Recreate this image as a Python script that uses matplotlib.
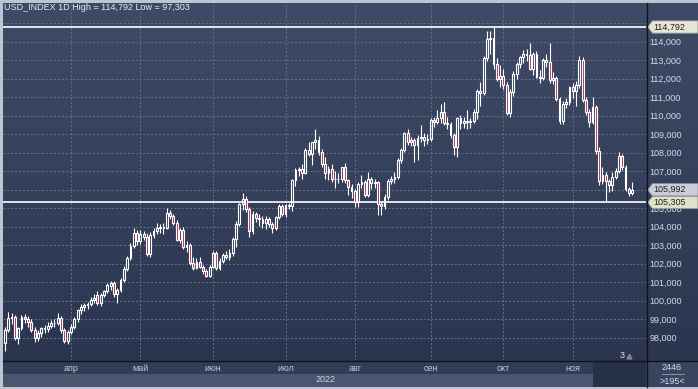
import numpy as np
import pandas as pd
import matplotlib
matplotlib.use("Agg")
import matplotlib.pyplot as plt
from matplotlib.colors import LinearSegmentedColormap
from matplotlib.patches import Polygon, Rectangle
from matplotlib.lines import Line2D

# daily USD index candles, 4 Mar 2022 .. 25 Nov 2022 (weekdays)
opens = [
    # Mar
    97.70, 98.42, 99.05, 99.10, 97.97, 98.50, 99.10, 99.02, 98.85, 98.42,
    97.97, 98.24, 98.50, 98.45, 98.65, 98.80, 98.78, 99.08, 98.42, 97.80,
    # Apr
    98.32, 98.56, 99.00, 99.48, 99.65, 99.75, 99.82, 100.04, 100.30, 99.86, 100.30,
    100.50, 100.80, 100.95, 100.35, 100.60, 101.12, 101.72, 102.30, 102.95, 103.65,
    # May
    103.20, 103.60, 103.45, 102.50, 103.55, 103.75, 103.95, 104.00, 103.90, 104.75, 104.55,
    104.20, 103.30, 103.80, 102.90, 103.00, 102.05, 101.75, 102.10, 101.80, 101.62, 101.35,
    # Jun
    101.80, 102.55, 101.75, 102.15, 102.45, 102.35, 102.60, 103.35, 104.15, 105.20, 105.50,
    104.95, 103.75, 104.70, 104.45, 104.40, 104.20, 104.40, 104.15, 103.90, 104.50, 105.10,
    # Jul
    104.70, 105.15, 105.10, 106.50, 107.05, 107.10, 106.90, 108.15, 107.95, 108.55, 108.70,
    108.05, 107.40, 106.90, 107.10, 106.60, 106.55, 106.55, 107.20, 106.50, 106.15,
    # Aug
    105.90, 105.35, 106.30, 106.40, 105.70, 106.60, 106.35, 106.40, 105.25, 105.10, 105.60, 106.45,
    106.55, 106.70, 107.60, 108.15, 109.05, 108.55, 108.70, 108.40, 108.80, 108.85, 108.70,
    # Sep
    108.75, 109.75, 109.65, 109.85, 110.20, 109.60, 109.55, 108.95, 108.30, 109.85, 109.60,
    109.70, 109.65, 109.70, 110.20, 111.35, 111.25, 113.10, 114.15, 114.18, 112.80, 112.00,
    # Oct
    112.15, 111.65, 110.15, 111.30, 112.25, 112.80, 113.15, 113.35, 113.30, 112.50, 113.35,
    112.10, 112.05, 113.00, 112.90, 111.95, 112.05, 110.90, 109.70, 110.65, 110.75,
    # Nov
    111.55, 111.35, 111.65, 113.00, 110.85, 110.20, 109.65, 110.45, 108.10, 106.45,
    106.80, 106.45, 106.25, 106.70, 107.00, 107.80, 107.25, 106.05, 105.80,
]
highs = [
    98.55, 99.40, 99.35, 99.20, 98.60, 99.20, 99.30, 99.15, 99.00, 98.60,
    98.40, 98.60, 98.70, 98.85, 98.95, 99.00, 99.35, 99.15, 98.50, 98.40,
    98.75, 99.10, 99.55, 99.80, 99.85, 99.95, 100.20, 100.35, 100.50, 100.40, 100.55,
    100.95, 101.05, 101.05, 100.70, 101.20, 101.85, 102.40, 103.10, 103.95, 103.80,
    103.80, 103.75, 103.65, 103.70, 103.95, 104.20, 104.15, 104.20, 105.00, 104.90, 104.70,
    104.35, 103.90, 104.00, 103.25, 103.10, 102.35, 102.30, 102.35, 101.95, 101.70, 101.95,
    102.70, 102.70, 102.30, 102.60, 102.70, 102.80, 103.45, 104.30, 105.30, 105.80, 105.65,
    105.05, 104.85, 104.80, 104.70, 104.60, 104.55, 104.50, 104.25, 104.55, 105.20, 105.25,
    105.25, 105.30, 106.60, 107.15, 107.25, 107.40, 108.25, 108.55, 108.60, 109.30, 108.90,
    108.20, 107.75, 107.30, 107.40, 107.00, 106.90, 107.25, 107.45, 106.55, 106.30,
    106.05, 106.40, 106.80, 106.50, 106.95, 106.70, 106.55, 106.45, 105.40, 105.75, 106.55, 106.75,
    106.95, 107.70, 108.25, 109.10, 109.30, 108.85, 108.80, 108.95, 109.50, 109.05, 109.00,
    109.85, 109.95, 110.30, 110.65, 110.75, 109.95, 109.65, 109.05, 109.90, 110.05, 109.90,
    110.30, 109.85, 110.35, 111.45, 111.80, 113.25, 114.55, 114.60, 114.792, 113.10, 112.75,
    112.50, 111.80, 111.45, 112.40, 112.90, 113.25, 113.55, 113.60, 113.95, 113.45, 113.50,
    112.45, 113.10, 113.35, 113.95, 112.35, 112.15, 111.00, 110.80, 110.95, 111.60,
    111.75, 111.85, 113.20, 113.15, 111.00, 110.35, 111.00, 110.55, 108.30, 107.25,
    106.95, 106.60, 106.95, 107.15, 108.05, 107.90, 107.35, 106.15, 106.40,
]
lows = [
    97.303, 98.30, 98.75, 97.85, 97.65, 98.40, 98.80, 98.60, 98.30, 97.75,
    97.80, 98.05, 98.25, 98.30, 98.50, 98.60, 98.70, 98.25, 97.70, 97.65,
    98.20, 98.45, 98.85, 99.30, 99.45, 99.55, 99.70, 99.85, 99.75, 99.70, 100.20,
    100.40, 100.60, 100.20, 99.85, 100.45, 101.00, 101.60, 102.20, 102.85, 103.00,
    103.05, 103.30, 102.40, 102.35, 103.40, 103.60, 103.65, 103.60, 103.85, 104.40, 104.10,
    103.20, 103.10, 102.80, 102.65, 101.95, 101.65, 101.70, 101.75, 101.45, 101.30, 101.30,
    101.75, 101.65, 101.65, 102.05, 102.25, 102.20, 102.40, 102.90, 104.05, 104.90, 104.80,
    103.45, 103.60, 104.25, 104.05, 103.90, 103.85, 104.00, 103.65, 103.80, 104.40, 104.55,
    104.50, 104.95, 104.85, 106.20, 106.75, 106.60, 106.85, 107.80, 107.35, 108.20, 107.85,
    107.25, 106.55, 106.50, 106.40, 106.10, 106.35, 106.40, 106.35, 105.70, 105.55,
    105.08, 105.05, 106.10, 105.60, 105.60, 106.05, 106.10, 104.63, 104.65, 104.95, 105.45, 106.30,
    106.35, 106.55, 107.45, 108.05, 108.40, 108.35, 107.50, 107.60, 108.55, 108.35, 108.45,
    108.65, 109.40, 109.55, 109.60, 109.50, 109.30, 108.80, 107.85, 107.75, 109.30, 109.35,
    109.30, 109.35, 109.60, 109.80, 110.50, 111.10, 112.95, 113.35, 112.50, 111.85, 111.55,
    111.45, 110.05, 109.95, 111.05, 112.00, 112.55, 112.85, 112.95, 112.45, 112.20, 112.05,
    111.75, 111.95, 112.65, 111.75, 111.70, 110.80, 109.55, 109.55, 110.40, 110.55,
    110.95, 110.50, 111.50, 110.75, 110.05, 109.40, 109.55, 107.95, 106.25, 106.30,
    105.305, 105.85, 105.95, 106.55, 106.90, 107.05, 105.95, 105.65, 105.70,
]
closes = [
    98.42, 99.05, 99.10, 97.97, 98.50, 99.10, 99.02, 98.85, 98.42, 97.97,
    98.24, 98.50, 98.45, 98.65, 98.80, 98.78, 99.08, 98.42, 97.80, 98.32,
    98.56, 99.00, 99.48, 99.65, 99.75, 99.82, 100.04, 100.15, 99.86, 100.30, 100.50,
    100.85, 100.95, 100.35, 100.60, 101.12, 101.72, 102.30, 102.95, 103.65, 103.20,
    103.60, 103.45, 102.50, 103.55, 103.75, 103.95, 104.00, 103.90, 104.75, 104.55, 104.20,
    103.30, 103.80, 102.90, 103.00, 102.05, 101.75, 102.10, 101.80, 101.62, 101.35, 101.80,
    102.55, 101.75, 102.15, 102.45, 102.35, 102.60, 103.35, 104.15, 105.20, 105.50, 104.95,
    103.75, 104.70, 104.45, 104.40, 104.20, 104.40, 104.15, 103.90, 104.50, 105.10, 104.70,
    105.15, 105.10, 106.50, 107.05, 107.10, 106.90, 108.15, 107.95, 108.55, 108.70, 108.05,
    107.40, 106.90, 107.10, 106.60, 106.55, 106.55, 107.20, 106.50, 106.15, 105.90,
    105.35, 106.30, 106.40, 105.70, 106.60, 106.35, 106.40, 105.25, 105.10, 105.60, 106.45, 106.55,
    106.70, 107.60, 108.15, 109.05, 108.55, 108.70, 108.40, 108.80, 108.85, 108.70, 108.75,
    109.75, 109.65, 109.85, 110.20, 109.60, 109.55, 108.95, 108.30, 109.85, 109.60, 109.70,
    109.65, 109.70, 110.20, 111.35, 111.25, 113.10, 114.15, 114.18, 112.80, 112.00, 112.15,
    111.65, 110.15, 111.30, 112.25, 112.80, 113.15, 113.35, 113.30, 112.50, 113.35, 112.10,
    112.05, 113.00, 112.90, 111.95, 112.05, 110.90, 109.70, 110.65, 110.75, 111.55,
    111.35, 111.65, 113.00, 110.85, 110.20, 109.65, 110.45, 108.10, 106.45, 106.80,
    106.45, 106.25, 106.70, 107.00, 107.80, 107.25, 106.05, 105.80, 105.992,
]
dates = pd.bdate_range("2022-03-04", "2022-11-25")
month_names = {4: "апр", 5: "май", 6: "июн", 7: "июл", 8: "авг",
               9: "сен", 10: "окт", 11: "ноя"}
price_ticks = list(range(98, 116))
support_level = 105.305

W, H = 698, 389
plt.rcParams['font.family'] = ['Liberation Sans', 'DejaVu Sans']


def box(x0, y0, x1, y1):
    return [x0 / W, 1 - y1 / H, (x1 - x0) / W, (y1 - y0) / H]


def fmt(v):
    return f"{v:.3f}".replace(".", ",")


fig = plt.figure(figsize=(W / 100, H / 100), dpi=100, facecolor='#bcc6d2')

# gradient background behind chart and price scale
bg = fig.add_axes(box(3, 3, 698, 361))
cmap = LinearSegmentedColormap.from_list('bg', ['#3f4b66', '#2b3550'])
bg.imshow(np.linspace(0, 1, 256).reshape(-1, 1), aspect='auto', cmap=cmap,
          extent=[0, 1, 0, 1])
bg.axis('off')

# bottom time scale strips (drawn under the axes so tick labels stay visible)
for x0, y0, x1, y1, col in [(3, 361, 646, 374, '#313d57'),
                            (3, 374, 646, 387, '#4a5670'),
                            (593, 361, 646, 387, '#27314a'),
                            (646, 361, 698, 387, '#394560')]:
    fig.add_artist(Rectangle((x0 / W, 1 - y1 / H), (x1 - x0) / W, (y1 - y0) / H,
                             transform=fig.transFigure, color=col, lw=0, zorder=-5))

ax = fig.add_axes(box(3, 3, 646, 360))
ax.set_facecolor('none')
for s in ax.spines.values():
    s.set_visible(False)

o = np.array(opens)
h = np.array(highs)
l = np.array(lows)
c = np.array(closes)
x = np.arange(len(c))
top = np.maximum(o, c)
bot = np.minimum(o, c)
up = c >= o

ax.vlines(x, l, bot, color='white', lw=0.8, zorder=3)
ax.vlines(x, top, h, color='white', lw=0.8, zorder=3)
ax.bar(x[up], (top - bot)[up], bottom=bot[up], width=0.55,
       facecolor='none', edgecolor='white', lw=0.8, zorder=4)
ax.bar(x[~up], (top - bot)[~up], bottom=bot[~up], width=0.55,
       facecolor='#b8294f', edgecolor='white', lw=0.8, zorder=4)

ax.axhline(h.max(), color='white', lw=1.2, zorder=2)
ax.axhline(support_level, color='white', lw=1.2, zorder=2)

ax.set_xlim(-0.6, 194.2)
ax.set_ylim(96.79, 116.09)

month_pos = [i for i in range(1, len(dates)) if dates[i].month != dates[i - 1].month]
ax.set_xticks(month_pos)
ax.set_xticklabels([month_names[dates[i].month] for i in month_pos])
ax.set_yticks(price_ticks)
ax.set_yticklabels([fmt(v) for v in price_ticks])
ax.yaxis.tick_right()
ax.tick_params(axis='y', length=0, pad=2.5, labelsize=6.5, labelcolor='#d5d9e1')
ax.tick_params(axis='x', length=0, pad=3, labelsize=6.5, labelcolor='#c3c8d2')
ax.grid(True, color='#66728c', ls=(0, (2, 2)), lw=0.7)
ax.set_axisbelow(True)

fig.text(4 / W, 1 - 8 / H,
         f"USD_INDEX 1D High = {fmt(h.max())} Low = {fmt(l.min())}",
         ha='left', va='center', fontsize=6.5, color='#e8eaee')

# price tags on the right scale
tag_ax = fig.add_axes(box(646, 3, 698, 360))
tag_ax.set_xlim(0, 52)
tag_ax.set_ylim(ax.get_ylim())
tag_ax.axis('off')
hh = 6.2 / 18.5
for val, col in [(h.max(), '#e6e6d2'), (c[-1], '#c9cdd9'), (support_level, '#dfe3c6')]:
    pts = [(1.5, val), (6.5, val + hh), (52, val + hh), (52, val - hh), (6.5, val - hh)]
    tag_ax.add_patch(Polygon(pts, closed=True, fc=col, ec='#8a8f99', lw=0.6))
    tag_ax.text(7.5, val, fmt(val), ha='left', va='center', fontsize=6.5, color='#222222')

# separators
fig.add_artist(Line2D([646.5 / W, 646.5 / W], [1 - 3 / H, 1 - 387 / H],
                      transform=fig.transFigure, color='#101418', lw=1))
fig.add_artist(Line2D([3 / W, 1], [1 - 360.5 / H, 1 - 360.5 / H],
                      transform=fig.transFigure, color='#101418', lw=1))
fig.add_artist(Line2D([662 / W, 684 / W], [1 - 374 / H, 1 - 374 / H],
                      transform=fig.transFigure, color='#9aa3b2', lw=0.6))

fig.text(326 / W, 1 - 380 / H, "2022", ha='center', va='center', fontsize=6.5, color='#d0d4dc')
fig.text(672 / W, 1 - 368 / H, "2446", ha='center', va='center', fontsize=6.5, color='#d8dce4')
fig.text(672 / W, 1 - 381 / H, ">195<", ha='center', va='center', fontsize=6.5, color='#d8dce4')
fig.text(622 / W, 1 - 355 / H, "3", ha='center', va='center', fontsize=6.5, color='#e0e2e8')
fig.add_artist(Line2D([629 / W], [1 - 356 / H], marker='^', ms=3.5, color='#7d869a',
                      transform=fig.transFigure, lw=0))

fig.savefig("out.png", dpi=100, facecolor=fig.get_facecolor())
